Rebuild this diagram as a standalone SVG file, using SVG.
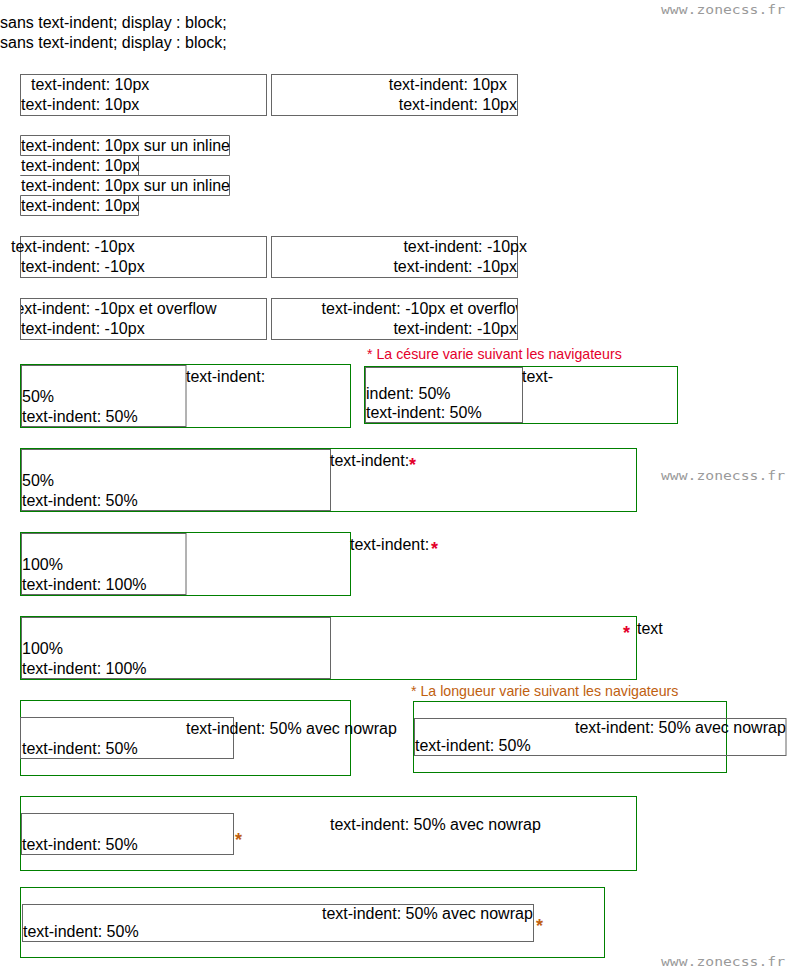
<svg xmlns="http://www.w3.org/2000/svg" width="801" height="972" viewBox="0 0 801 972">
<style>
text{font-family:"Liberation Sans",Arial,sans-serif;font-size:16px;fill:#000}
.g{fill:none;stroke:#666;stroke-width:1}
.gr{fill:none;stroke:#008000;stroke-width:1}
.note-r{font-size:14.2px;fill:#e4002b}
.note-o{font-size:14.2px;fill:#c06010}
.ast-r{font-size:18px;font-weight:bold;fill:#e4002b}
.ast-o{font-size:18px;font-weight:bold;fill:#c06010}
.wm{font-family:"DejaVu Sans Mono","Liberation Mono",monospace;font-size:13px;fill:#9a9a9a}
.e{text-anchor:end}
</style>
<defs>
<clipPath id="c5a"><rect x="21" y="299" width="245" height="40"/></clipPath>
<clipPath id="c5b"><rect x="272" y="299" width="245" height="40"/></clipPath>
</defs>
<rect width="801" height="972" fill="#fff"/>
<text class="wm" x="661" y="14" textLength="124" lengthAdjust="spacingAndGlyphs">www.zonecss.fr</text>
<text class="wm" x="661" y="480" textLength="124" lengthAdjust="spacingAndGlyphs">www.zonecss.fr</text>
<text class="wm" x="661" y="966" textLength="124" lengthAdjust="spacingAndGlyphs">www.zonecss.fr</text>

<g id="intro">
<text x="0" y="28">sans text-indent; display : block;</text>
<text x="0" y="48">sans text-indent; display : block;</text>
</g>

<g id="row2-left">
<rect class="g" x="20.5" y="74.5" width="246" height="41"/>
<text x="31" y="90">text-indent: 10px</text>
<text x="21" y="110">text-indent: 10px</text>
</g>
<g id="row2-right">
<rect class="g" x="271.5" y="74.5" width="246" height="41"/>
<text class="e" x="507" y="90">text-indent: 10px</text>
<text class="e" x="517" y="110">text-indent: 10px</text>
</g>

<g id="row3-inline">
<path class="g" d="M20.5 135.5H229.5V155.5H20.5Z M20.5 175.5H138.5V155.5 M20.5 175.5H229.5V195.5H20.5 M20.5 195.5V215.5H138.5V195.5"/>
<text x="21" y="151">text-indent: 10px sur un inline</text>
<text x="21" y="171">text-indent: 10px</text>
<text x="21" y="191">text-indent: 10px sur un inline</text>
<text x="21" y="211">text-indent: 10px</text>
</g>

<g id="row4-left">
<rect class="g" x="20.5" y="236.5" width="246" height="41"/>
<text x="11" y="252">text-indent: -10px</text>
<text x="21" y="272">text-indent: -10px</text>
</g>
<g id="row4-right">
<rect class="g" x="271.5" y="236.5" width="246" height="41"/>
<text class="e" x="527" y="252">text-indent: -10px</text>
<text class="e" x="517" y="272">text-indent: -10px</text>
</g>

<g id="row5-left">
<rect class="g" x="20.5" y="298.5" width="246" height="41"/>
<text x="11" y="314" clip-path="url(#c5a)">text-indent: -10px et overflow</text>
<text x="21" y="334">text-indent: -10px</text>
</g>
<g id="row5-right">
<rect class="g" x="271.5" y="298.5" width="246" height="41"/>
<text class="e" x="527" y="314" clip-path="url(#c5b)">text-indent: -10px et overflow</text>
<text class="e" x="517" y="334">text-indent: -10px</text>
</g>

<g id="row6-left">
<rect class="gr" x="20.5" y="364.5" width="330" height="63"/>
<rect class="g" x="21.5" y="365.5" width="164.5" height="61"/>
<text x="186" y="382">text-indent:</text>
<text x="22" y="402">50%</text>
<text x="22" y="422">text-indent: 50%</text>
</g>
<text class="note-r" x="367" y="359">* La césure varie suivant les navigateurs</text>
<g id="row6-right">
<rect class="gr" x="364.5" y="366.5" width="313" height="57"/>
<rect class="g" x="365.5" y="367.5" width="157" height="55"/>
<text x="522" y="382">text-</text>
<text x="366" y="399">indent: 50%</text>
<text x="366" y="418">text-indent: 50%</text>
</g>

<g id="row7">
<rect class="gr" x="20.5" y="448.5" width="616" height="63"/>
<rect class="g" x="21.5" y="449.5" width="309" height="61"/>
<text x="330" y="466">text-indent:</text>
<text class="ast-r" x="409" y="471">*</text>
<text x="22" y="486">50%</text>
<text x="22" y="506">text-indent: 50%</text>
</g>

<g id="row8">
<rect class="gr" x="20.5" y="532.5" width="330" height="63"/>
<rect class="g" x="21.5" y="533.5" width="164.5" height="61"/>
<text x="350" y="550">text-indent:</text>
<text class="ast-r" x="431" y="555">*</text>
<text x="22" y="570">100%</text>
<text x="22" y="590">text-indent: 100%</text>
</g>

<g id="row9">
<rect class="gr" x="20.5" y="616.5" width="616" height="63"/>
<rect class="g" x="21.5" y="617.5" width="309" height="61"/>
<text class="ast-r" x="623" y="639">*</text>
<text x="637" y="634">text</text>
<text x="22" y="654">100%</text>
<text x="22" y="674">text-indent: 100%</text>
</g>

<text class="note-o" x="411" y="696">* La longueur varie suivant les navigateurs</text>
<g id="row10-left">
<rect class="gr" x="20.5" y="700.5" width="330" height="75"/>
<rect class="g" x="20.5" y="717.5" width="213" height="41"/>
<text x="186" y="734">text-indent: 50% avec nowrap</text>
<text x="22" y="754">text-indent: 50%</text>
</g>
<g id="row10-right">
<rect class="gr" x="413.5" y="701.5" width="313" height="71"/>
<rect class="g" x="414.5" y="718.5" width="371.5" height="37"/>
<text x="575" y="733">text-indent: 50% avec nowrap</text>
<text x="415" y="751">text-indent: 50%</text>
</g>

<g id="row11">
<rect class="gr" x="20.5" y="796.5" width="616" height="74"/>
<rect class="g" x="21.5" y="813.5" width="212" height="41"/>
<text x="330" y="830">text-indent: 50% avec nowrap</text>
<text class="ast-o" x="235" y="846">*</text>
<text x="22" y="850">text-indent: 50%</text>
</g>

<g id="row12">
<rect class="gr" x="20.5" y="887.5" width="584" height="70"/>
<rect class="g" x="22.5" y="904.5" width="511" height="37"/>
<text x="322" y="919">text-indent: 50% avec nowrap</text>
<text class="ast-o" x="536" y="932">*</text>
<text x="23" y="937">text-indent: 50%</text>
</g>
</svg>
